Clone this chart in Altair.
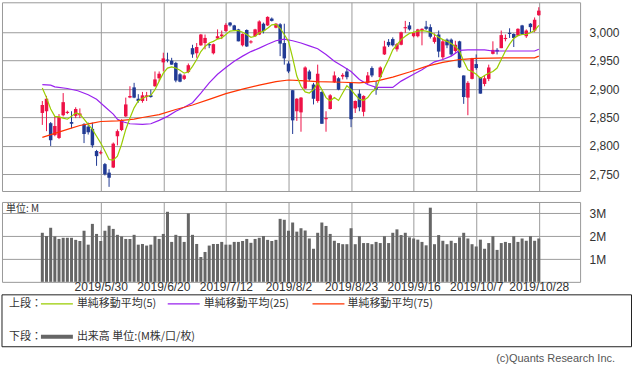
import altair as alt
import pandas as pd

# ---------------- data ----------------
opens = [2858, 2861, 2840, 2819, 2814, 2854, 2858, 2842, 2853, 2854,
         2838, 2834, 2830, 2791, 2787, 2768, 2753, 2762, 2817, 2828,
         2852, 2885, 2903, 2883, 2879, 2886, 2889, 2905, 2919, 2947,
         2952, 2950, 2946, 2926, 2918, 2930, 2972, 2963, 2977, 2981,
         2979, 2963, 2989, 2993, 3002, 3017, 3012, 3005, 2977, 3004,
         2982, 2993, 2996, 3015, 3012, 3024, 3008, 3014, 2981, 2945,
         2898, 2861, 2859, 2901, 2931, 2908, 2879, 2895, 2847, 2865,
         2912, 2919, 2922, 2931, 2911, 2866, 2892, 2860, 2911, 2937,
         2903, 2921, 2961, 2983, 2988, 2970, 2978, 3007, 3012, 2993,
         2993, 3003, 3010, 3009, 2983, 2996, 2956, 2987, 2987, 2967,
         2984, 2924, 2885, 2918, 2944, 2921, 2909, 2918, 2962, 2969,
         2972, 2988, 2999, 2997, 2994, 3012, 2993, 3015, 3003, 3030]
highs = [2879, 2888, 2842, 2852, 2856, 2893, 2862, 2861, 2868, 2866,
         2840, 2841, 2841, 2793, 2792, 2770, 2759, 2806, 2829, 2847,
         2885, 2905, 2911, 2891, 2895, 2895, 2899, 2931, 2931, 2964,
         2964, 2955, 2948, 2928, 2926, 2945, 2978, 2981, 2997, 2996,
         2981, 2980, 3005, 3003, 3016, 3018, 3013, 3006, 2998, 3005,
         2986, 3006, 3021, 3017, 3028, 3026, 3016, 3016, 3015, 2949,
         2898, 2884, 2886, 2940, 2934, 2911, 2943, 2896, 2861, 2891,
         2931, 2921, 2928, 2937, 2911, 2880, 2899, 2889, 2930, 2940,
         2914, 2940, 2985, 2988, 2991, 2981, 3001, 3020, 3018, 3001,
         3006, 3007, 3020, 3014, 2998, 3003, 2987, 2989, 2989, 2985,
         2985, 2924, 2914, 2955, 2961, 2921, 2923, 2943, 2984, 2972,
         3003, 2996, 3007, 2998, 3007, 3013, 3005, 3016, 3026, 3044]
lows = [2837, 2826, 2800, 2817, 2812, 2852, 2856, 2831, 2849, 2849,
        2805, 2820, 2797, 2765, 2785, 2748, 2728, 2761, 2801, 2826,
        2851, 2884, 2884, 2876, 2876, 2879, 2885, 2904, 2914, 2931,
        2947, 2943, 2912, 2912, 2916, 2928, 2955, 2955, 2976, 2970,
        2972, 2961, 2988, 2988, 3001, 3010, 3002, 2984, 2975, 2974,
        2980, 2992, 2995, 2998, 3011, 3019, 3007, 2958, 2943, 2928,
        2821, 2844, 2825, 2900, 2914, 2873, 2876, 2839, 2825, 2864,
        2911, 2898, 2917, 2917, 2833, 2858, 2861, 2852, 2909, 2921,
        2890, 2920, 2960, 2974, 2975, 2966, 2977, 2999, 3003, 2991,
        2991, 2977, 3004, 2989, 2980, 2956, 2952, 2972, 2958, 2964,
        2937, 2874, 2854, 2917, 2934, 2892, 2905, 2914, 2961, 2961,
        2972, 2984, 2990, 2974, 2993, 2995, 2990, 3000, 3000, 3029]
closes = [2872, 2883, 2810, 2835, 2851, 2877, 2860, 2839, 2865, 2857,
          2821, 2824, 2801, 2782, 2789, 2750, 2744, 2804, 2826, 2844,
          2873, 2888, 2885, 2879, 2889, 2889, 2886, 2917, 2927, 2954,
          2950, 2943, 2915, 2913, 2924, 2942, 2961, 2974, 2996, 2990,
          2977, 2979, 2993, 2996, 3013, 3012, 3004, 2984, 2997, 2975,
          2984, 3005, 3019, 3002, 3027, 3020, 3015, 2980, 2954, 2931,
          2845, 2883, 2885, 2938, 2917, 2883, 2927, 2839, 2849, 2889,
          2924, 2899, 2925, 2921, 2847, 2879, 2868, 2888, 2924, 2924,
          2899, 2938, 2975, 2977, 2977, 2979, 3000, 3009, 3005, 2999,
          3005, 3006, 3006, 2992, 2991, 2966, 2984, 2977, 2961, 2978,
          2938, 2886, 2911, 2954, 2937, 2892, 2919, 2938, 2969, 2966,
          2995, 2990, 2997, 2990, 3006, 2996, 3003, 3009, 3022, 3038]
volumes = [2.15, 2.01, 2.37, 1.99, 1.88, 1.93, 1.93, 1.93, 1.84, 1.79,
           2.24, 1.63, 2.54, 2.10, 1.79, 2.24, 2.46, 2.32, 2.06, 1.99,
           1.88, 1.88, 2.06, 1.63, 1.66, 1.59, 1.63, 2.01, 1.88, 2.10,
           3.07, 1.75, 2.06, 2.01, 1.75, 3.00, 2.06, 1.66, 1.09, 1.31,
           1.59, 1.66, 1.66, 1.75, 1.63, 1.63, 1.75, 1.75, 1.79, 1.88,
           1.71, 1.88, 1.93, 2.01, 1.84, 1.79, 1.84, 2.76, 2.72, 2.24,
           2.60, 2.20, 2.35, 2.25, 1.90, 1.45, 2.15, 2.60, 2.45, 2.10,
           1.80, 1.70, 1.65, 1.65, 2.35, 1.65, 2.00, 1.70, 1.70, 1.65,
           1.75, 1.70, 2.00, 1.70, 2.15, 2.30, 2.05, 2.15, 1.95, 1.90,
           1.85, 1.75, 1.60, 3.25, 1.65, 2.05, 1.80, 1.65, 1.80, 1.70,
           1.95, 2.15, 1.90, 1.65, 1.55, 1.85, 1.45, 1.70, 2.00, 1.40,
           1.70, 1.75, 1.70, 2.00, 1.75, 1.90, 1.80, 2.00, 1.80, 1.90]
ma5 = [2902, 2885, 2865, 2852, 2851, 2849, 2847, 2852, 2858, 2856,
       2847, 2838, 2829, 2817, 2805, 2791, 2776, 2775, 2782, 2803,
       2829, 2849, 2867, 2879, 2884, 2887, 2889, 2899, 2914, 2928,
       2937, 2939, 2937, 2933, 2928, 2930, 2940, 2952, 2966, 2975,
       2981, 2984, 2988, 2990, 2996, 3002, 3003, 3003, 3000, 2996,
       2991, 2993, 2999, 3002, 3007, 3013, 3014, 3007, 2996, 2984,
       2955, 2923, 2905, 2895, 2893, 2899, 2911, 2899, 2885, 2879,
       2885, 2880, 2893, 2906, 2899, 2890, 2882, 2880, 2885, 2895,
       2901, 2920, 2937, 2952, 2969, 2978, 2987, 2993, 2998, 3000,
       3002, 3003, 3002, 3000, 2996, 2991, 2987, 2984, 2980, 2975,
       2967, 2949, 2934, 2931, 2926, 2919, 2924, 2928, 2931, 2937,
       2952, 2967, 2979, 2989, 2994, 2996, 2996, 2999, 3003, 3012]
ma25_i = [0, 2, 3, 6, 8.5, 11, 13, 15, 17, 18, 19.5, 21, 24, 26, 28, 30, 32, 34,
          36, 38, 40, 42, 44, 46, 48, 50, 52, 54, 56, 58, 60, 62, 64, 66, 68,
          70, 72, 74, 76, 78, 80, 84, 86, 89, 91, 94, 96, 98, 100, 102, 106,
          108, 118, 119]
ma25_v = [2908, 2907, 2904, 2901, 2897, 2890, 2882, 2869, 2856, 2847, 2842,
          2839, 2838, 2839, 2845, 2852, 2861, 2868, 2876, 2893, 2911, 2926,
          2938, 2949, 2958, 2966, 2972, 2979, 2985, 2988, 2985, 2981, 2976,
          2971, 2961, 2949, 2940, 2931, 2917, 2908, 2903, 2903, 2914, 2926,
          2934, 2948, 2952, 2958, 2968, 2969, 2969, 2967, 2967, 2970]
ma75_i = [0, 3, 6, 9, 12, 14, 18, 22, 24, 28, 32, 36, 40, 44, 48, 52, 56, 59,
          62, 66, 72, 76, 80, 84, 88, 92, 96, 100, 104, 111, 118, 119]
ma75_v = [2815, 2822, 2829, 2836, 2840, 2843, 2844, 2847, 2850, 2855, 2864,
          2872, 2882, 2892, 2900, 2907, 2913, 2916, 2915, 2913, 2912, 2911,
          2914, 2921, 2930, 2940, 2947, 2952, 2954, 2955, 2955, 2958]
tick_idx = [14, 29, 44, 59, 74, 89, 104, 119]
tick_labels = ["2019/5/30", "2019/6/20", "2019/7/12", "2019/8/2",
               "2019/8/23", "2019/9/16", "2019/10/7", "2019/10/28"]
price_ticks = [2750, 2800, 2850, 2900, 2950, 3000]
vol_ticks = [1, 2, 3]

# ---------------- styling ----------------
RED = "#ee1146"
BLUE = "#213a94"
GREEN = "#99cc00"
PURPLE = "#9922ee"
ORANGE = "#ff3300"
GRID = "#9c9c9c"
FONT = "Liberation Sans"
JFONT = "Noto Sans CJK JP"

df = pd.DataFrame({"i": list(range(len(opens))), "open": opens, "high": highs,
                   "low": lows, "close": closes, "volume": volumes, "ma5": ma5})
df["dir"] = ["up" if c >= o else "down" for o, c in zip(opens, closes)]
ma25_df = pd.DataFrame({"i": ma25_i, "v": ma25_v})
ma75_df = pd.DataFrame({"i": ma75_i, "v": ma75_v})
one = pd.DataFrame({"k": [0]})

XDOM = [-8.47, 127.7]
W = 579
label_expr = " : ".join(f"datum.value == {v} ? '{t}'" for v, t in zip(tick_idx, tick_labels)) + " : ''"
price_expr = "replace(format(datum.value, ','), '.', ',')"

color = alt.Color("dir:N", scale=alt.Scale(domain=["up", "down"], range=[RED, BLUE]), legend=None)
xs = alt.Scale(domain=XDOM, nice=False, zero=False)
x_axis_top = alt.Axis(values=tick_idx, labels=False, ticks=False, domain=False, grid=True, title=None)
ys = alt.Scale(domain=[2720.7, 3052.7], nice=False, zero=False)
y_axis_top = alt.Axis(orient="right", values=price_ticks, labelExpr="format(datum.value, ',')",
                      ticks=False, domain=False, grid=True, title=None, labelPadding=9,
                      labelOverlap=False)


def X(field):
    return alt.X(field, scale=xs, axis=x_axis_top)


def Y(field):
    return alt.Y(field, scale=ys, axis=y_axis_top)


base = alt.Chart(df)
wick = base.mark_rule(strokeWidth=1).encode(x=X("i:Q"), y=Y("low:Q"), y2="high:Q", color=color)
body = base.mark_bar(size=3.5).encode(x=X("i:Q"), y=Y("open:Q"), y2="close:Q", color=color)
l5 = base.mark_line(color=GREEN, strokeWidth=1.2).encode(x=X("i:Q"), y=Y("ma5:Q"))
l25 = alt.Chart(ma25_df).mark_line(color=PURPLE, strokeWidth=1.2).encode(x=X("i:Q"), y=Y("v:Q"))
l75 = alt.Chart(ma75_df).mark_line(color=ORANGE, strokeWidth=1.2).encode(x=X("i:Q"), y=Y("v:Q"))
top = alt.layer(wick, body, l25, l75, l5).properties(width=W, height=189)

x_vol = alt.X("i:Q", scale=xs, axis=alt.Axis(values=tick_idx, labelExpr=label_expr, ticks=False,
                                             domain=False, grid=True, title=None, labelPadding=0,
                                             labelFontSize=12, labelOverlap=False))
vol = base.mark_bar(size=3, color="#666666").encode(
    x=x_vol,
    y=alt.Y("volume:Q", scale=alt.Scale(domain=[0, 3.5], nice=False),
            axis=alt.Axis(orient="right", values=vol_ticks, labelExpr="datum.value + 'M'",
                          ticks=False, domain=False, grid=True, title=None, labelPadding=9,
                          labelOverlap=False)))
unit = alt.Chart(one).mark_text(align="left", baseline="middle", fontSize=10, font=JFONT,
                                color="#333").encode(x=alt.value(4), y=alt.value(7.5),
                                                     text=alt.value("単位: M"))
bottom = alt.layer(vol, unit).properties(width=W, height=80)


# ---------------- legend box ----------------
def txt(s, x, y, size=11, col="#333", align="left", font=JFONT):
    return alt.Chart(one).mark_text(align=align, baseline="middle", fontSize=size, font=font,
                                    color=col).encode(x=alt.value(x), y=alt.value(y), text=alt.value(s))


def seg(x1, x2, y, col, w):
    return alt.Chart(one).mark_rule(color=col, strokeWidth=w).encode(
        x=alt.value(x1), x2=alt.value(x2), y=alt.value(y))


box = alt.Chart(one).mark_rect(filled=False, stroke="#222", strokeWidth=1).encode(
    x=alt.value(0), x2=alt.value(630.5), y=alt.value(2), y2=alt.value(54))
legend = alt.layer(
    box,
    txt("上段：", 7, 11),
    seg(39, 71, 11, GREEN, 1.2), txt("単純移動平均(5)", 75, 11),
    seg(166, 198, 11, PURPLE, 1.2), txt("単純移動平均(25)", 202, 11),
    seg(311, 343, 11, ORANGE, 1.2), txt("単純移動平均(75)", 346, 11),
    txt("下段：", 7, 44),
    seg(39, 71, 44, "#666666", 4), txt("出来高 単位:(M株/口/枚)", 75, 44),
    txt("(c)Quants Research Inc.", 614, 66, size=11, col="#555", align="right", font=FONT),
).properties(width=631, height=81, view=alt.ViewBackground(stroke="transparent"))

chart = alt.vconcat(top, bottom, legend, spacing=11, bounds="flush").properties(
    padding={"left": 1, "top": 1, "right": 0, "bottom": 0},
    background="white",
).configure_view(stroke="#999999", strokeWidth=1).configure_axis(
    labelFont=FONT, labelFontSize=12, labelColor="#333333", gridColor=GRID, gridWidth=1,
    gridOpacity=1)

chart.save("out.html", embed_options={"renderer": "svg", "actions": False})
